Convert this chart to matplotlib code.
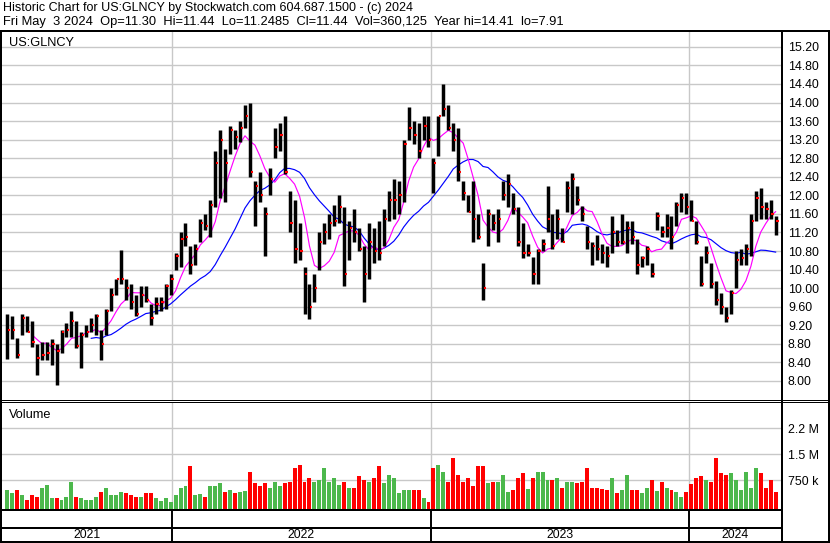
import numpy as np
import pandas as pd
import matplotlib
matplotlib.use("Agg")
import matplotlib.pyplot as plt
import matplotlib.dates as mdates
from matplotlib.lines import Line2D

# weekly bars (week ending Friday), prices in USD
week_end = pd.date_range(end="2024-05-03", periods=156, freq="W-FRI")

high = [9.45, 9.4, 8.92, 9.45, 9.4, 9.3, 8.8, 8.83, 8.85, 8.9,
        8.8, 9.1, 9.25, 9.5, 9.3, 9.05, 9.2, 9.35, 9.45, 9.1,
        9.55, 10.0, 10.2, 10.82, 10.2, 10.1, 9.85, 10.05, 10.05, 9.65,
        9.8, 9.8, 10.1, 10.3, 10.75, 11.2, 11.4, 10.9, 10.95, 11.5,
        11.6, 11.9, 12.95, 13.4, 13.0, 13.5, 13.4, 13.6, 13.95, 14.0,
        12.3, 12.5, 11.75, 12.6, 13.45, 13.55, 13.72, 12.1, 11.9, 11.4,
        10.45, 10.1, 10.3, 11.2, 11.4, 11.6, 11.8, 12.0, 11.75, 11.45,
        11.7, 11.3, 10.9, 11.4, 11.3, 11.45, 11.7, 12.1, 12.35, 12.3,
        13.2, 13.9, 13.6, 13.55, 13.7, 13.7, 12.8, 13.7, 14.41, 13.95,
        13.55, 13.45, 12.3, 12.0, 12.3, 11.6, 10.55, 11.7, 11.6, 11.7,
        12.3, 12.45, 12.05, 11.75, 11.4, 10.95, 10.67, 10.85, 11.05, 12.2,
        11.6, 11.7, 11.3, 12.3, 12.48, 12.2, 11.78, 11.35, 11.0, 11.15,
        10.95, 10.9, 11.55, 11.25, 11.6, 11.45, 11.45, 11.05, 10.7, 10.9,
        10.55, 11.65, 11.35, 11.6, 11.55, 11.85, 12.05, 12.05, 11.9, 11.45,
        10.7, 10.9, 10.55, 10.15, 9.9, 9.6, 9.95, 10.8, 10.85, 10.95,
        11.6, 12.1, 12.15, 11.85, 11.9, 11.55]

low = [8.48, 8.9, 8.5, 9.0, 9.05, 8.73, 8.12, 8.45, 8.45, 8.35,
       7.92, 8.6, 8.95, 8.95, 8.72, 8.28, 8.95, 9.05, 9.0, 8.45,
       9.0, 9.5, 9.85, 10.1, 9.75, 9.55, 9.4, 9.6, 9.7, 9.2,
       9.45, 9.5, 9.55, 9.85, 10.4, 10.45, 10.9, 10.3, 10.5, 11.0,
       11.25, 11.1, 11.75, 11.95, 11.85, 12.9, 13.0, 13.15, 13.45, 12.4,
       11.35, 11.85, 10.7, 12.0, 12.8, 12.95, 12.45, 11.2, 10.55, 10.6,
       9.45, 9.33, 9.7, 10.4, 10.95, 11.05, 11.35, 11.4, 10.05, 10.6,
       11.0, 10.8, 9.7, 10.2, 10.55, 10.6, 10.9, 11.45, 11.5, 11.6,
       11.85, 13.2, 13.1, 12.8, 13.2, 13.05, 12.05, 12.85, 13.7, 13.4,
       12.95, 12.3, 11.9, 11.65, 11.0, 11.05, 9.75, 10.9, 11.25, 11.0,
       11.9, 11.75, 11.6, 10.9, 10.65, 10.7, 10.1, 10.1, 10.8, 11.2,
       10.85, 11.05, 11.0, 11.65, 11.6, 11.8, 11.45, 10.85, 10.5, 10.6,
       10.55, 10.45, 10.75, 10.9, 10.95, 10.75, 10.95, 10.3, 10.45, 10.5,
       10.25, 11.25, 11.1, 11.1, 10.85, 11.35, 11.65, 11.6, 11.45, 10.95,
       10.05, 10.55, 10.0, 9.63, 9.45, 9.27, 9.45, 10.0, 10.5, 10.5,
       10.7, 11.45, 11.5, 11.5, 11.5, 11.15]

close = [9.1, 9.1, 8.55, 9.35, 9.05, 8.85, 8.5, 8.55, 8.6, 8.8,
         8.65, 9.05, 9.1, 9.3, 8.75, 9.0, 9.05, 9.2, 9.4, 8.8,
         9.5, 9.85, 10.2, 10.2, 10.0, 9.7, 9.45, 9.85, 9.75, 9.35,
         9.65, 9.7, 10.05, 10.2, 10.7, 11.05, 11.1, 10.5, 10.85, 11.4,
         11.35, 11.8, 12.7, 13.2, 12.7, 13.4, 13.25, 13.45, 13.7, 12.5,
         12.2, 12.0, 11.6, 12.35, 13.05, 13.3, 12.5, 11.4, 10.85, 10.8,
         10.3, 9.6, 10.0, 11.0, 11.2, 11.4, 11.45, 11.75, 10.3, 11.3,
         11.2, 10.85, 10.3, 11.0, 10.8, 10.75, 11.5, 11.9, 11.9, 12.0,
         13.1, 13.45, 13.3, 12.95, 13.5, 13.2, 12.7, 13.7, 13.85, 13.45,
         13.2, 12.5, 12.05, 11.65, 11.5, 11.1, 10.0, 11.6, 11.4, 11.5,
         12.0, 12.25, 11.7, 11.0, 10.75, 10.75, 10.3, 10.8, 10.95, 11.5,
         10.9, 11.5, 11.0, 12.15, 12.35, 11.9, 11.6, 11.0, 10.9, 10.85,
         10.75, 10.7, 11.2, 11.0, 11.0, 11.3, 11.1, 10.5, 10.65, 10.85,
         10.3, 11.55, 11.2, 11.3, 11.1, 11.8, 11.95, 11.75, 11.45, 11.0,
         10.1, 10.75, 10.1, 9.75, 9.6, 9.35, 9.9, 10.6, 10.65, 10.85,
         11.45, 11.95, 11.75, 11.7, 11.6, 11.44]

# typical daily volume in each week, thousands of shares
volume_k = [470, 375, 470, 330, 185, 330, 280, 520, 615, 230,
            230, 185, 280, 710, 280, 230, 185, 185, 280, 420,
            520, 330, 330, 420, 375, 330, 280, 280, 375, 375,
            230, 150, 230, 135, 330, 520, 570, 1150, 330, 350,
            280, 570, 570, 660, 420, 470, 375, 420, 440, 1000,
            660, 570, 660, 520, 710, 570, 660, 710, 1100, 1200,
            710, 810, 710, 760, 1100, 710, 810, 615, 710, 520,
            520, 860, 760, 710, 810, 1150, 660, 900, 810, 375,
            470, 470, 470, 470, 230, 135, 1100, 1200, 1000, 710,
            1400, 900, 710, 810, 570, 1150, 1150, 660, 710, 710,
            900, 400, 470, 810, 950, 500, 810, 1000, 1000, 760,
            760, 810, 520, 710, 710, 660, 710, 1100, 520, 520,
            500, 470, 810, 375, 470, 900, 470, 470, 375, 520,
            760, 440, 710, 540, 470, 400, 280, 400, 635, 810,
            860, 760, 710, 1400, 950, 900, 950, 760, 470, 1000,
            520, 1100, 950, 520, 760, 420]

price_ticks = np.arange(8.0, 15.21, 0.4)
vol_ticks = [750e3, 1.5e6, 2.25e6]
vol_labels = ["750 k", "1.5 M", "2.2 M"]
years = [2021, 2022, 2023, 2024]

W, H = 830, 543
plt.rcParams["font.family"] = "Liberation Sans"
fig = plt.figure(figsize=(W / 100, H / 100), dpi=100)


def fbox(x0, y0, x1, y1):
    # pixel box (top-left origin) -> figure fraction rect
    return [x0 / W, 1 - y1 / H, (x1 - x0) / W, (y1 - y0) / H]


def pline(xs, ys, lw=1.0, color="black"):
    fig.add_artist(Line2D([x / W for x in xs], [1 - y / H for y in ys],
                          transform=fig.transFigure, color=color,
                          lw=lw * 0.72, solid_capstyle="butt"))


x = mdates.date2num(week_end - pd.Timedelta(days=1))
xmin = mdates.date2num(pd.Timestamp("2021-05-06"))
xmax = mdates.date2num(pd.Timestamp("2024-05-09 14:00"))
year_starts = [mdates.date2num(pd.Timestamp(f"{y}-01-01")) for y in years[1:]]
grid_c = "#c8c8c8"

# ---- price panel
ax = fig.add_axes(fbox(2, 32, 781, 400))
ax.set_xlim(xmin, xmax)
ax.set_ylim(7.59, 15.52)
for p in price_ticks:
    ax.axhline(p, color=grid_c, lw=1.0, zorder=0)
for xs in year_starts:
    ax.axvline(xs, color=grid_c, lw=1.0, zorder=0)

close_s = pd.Series(close)
ma_fast = close_s.rolling(6).mean()
ma_slow = close_s.rolling(18).mean()
ax.plot(x, ma_slow, color="#0000ff", lw=0.85, zorder=2)
ax.plot(x, ma_fast, color="#ff00ff", lw=0.85, zorder=2)
ax.vlines(x, low, high, color="black", lw=2.5, zorder=3)
ax.hlines(close, x + 1.0, x + 4.2, color="#ff0000", lw=1.5, zorder=4)

ax.set_yticks(price_ticks)
ax.set_yticklabels([f"{p:.2f}" for p in price_ticks])
ax.yaxis.tick_right()
ax.tick_params(axis="y", length=0, pad=5, labelsize=8.9, colors="black")
ax.set_xticks([])
for s in ax.spines.values():
    s.set_visible(False)
fig.text(9 / W, 1 - 46 / H, "US:GLNCY", fontsize=9.2, ha="left", va="baseline")

# ---- volume panel
axv = fig.add_axes(fbox(2, 403, 781, 509), sharex=ax)
vmin = -80e3
axv.set_ylim(vmin, 2.98e6)
for v in vol_ticks:
    axv.axhline(v, color=grid_c, lw=1.0, zorder=0)
for xs in year_starts:
    axv.axvline(xs, color=grid_c, lw=1.0, zorder=0)
vol = np.array(volume_k) * 1000.0
chg = np.diff(np.r_[close[0], close])
vcol = np.where(chg < 0, "#ff0000", "#4cb84c")
axv.bar(x, vol - vmin, bottom=vmin, width=5.6, color=vcol, lw=0, zorder=2)
axv.set_yticks(vol_ticks)
axv.set_yticklabels(vol_labels)
axv.yaxis.tick_right()
axv.tick_params(axis="y", length=0, pad=5, labelsize=8.9)
axv.tick_params(axis="x", length=0, labelbottom=False)
for s in axv.spines.values():
    s.set_visible(False)
fig.text(9 / W, 1 - 418 / H, "Volume", fontsize=9.2, ha="left", va="baseline")

# ---- date strip
axd = fig.add_axes(fbox(2, 509, 781, 542), sharex=ax)
axd.set_ylim(0, 1)
axd.axis("off")
for xs in year_starts:
    axd.axvline(xs, color="black", lw=1.4)
edges = [xmin] + year_starts + [xmax]
for i, y in enumerate(years):
    axd.text((edges[i] + edges[i + 1]) / 2, 0.22, str(y), ha="center",
             va="center", fontsize=8.8)

# ---- frame lines
pline([0, W], [30.5, 30.5], lw=2)
pline([1, 1], [30, H], lw=2)
pline([W - 1, W - 1], [30, H], lw=2)
pline([0, W], [H - 1, H - 1], lw=2)
pline([782, 782], [30, H], lw=2)
pline([0, W], [400, 400], lw=1)
pline([0, W], [402, 402], lw=1)
pline([0, 782], [509.5, 509.5], lw=2)
pline([0, 782], [527.5, 527.5], lw=2)

# ---- header
fig.text(3 / W, 1 - 11.5 / H,
         "Historic Chart for US:GLNCY by Stockwatch.com 604.687.1500 - (c) 2024",
         fontsize=9.0, ha="left", va="baseline")
fig.text(3 / W, 1 - 24.5 / H,
         "Fri May  3 2024  Op=11.30  Hi=11.44  Lo=11.2485  Cl=11.44  "
         "Vol=360,125  Year hi=14.41  lo=7.91",
         fontsize=9.3, ha="left", va="baseline")

fig.savefig("out.png", dpi=100)
